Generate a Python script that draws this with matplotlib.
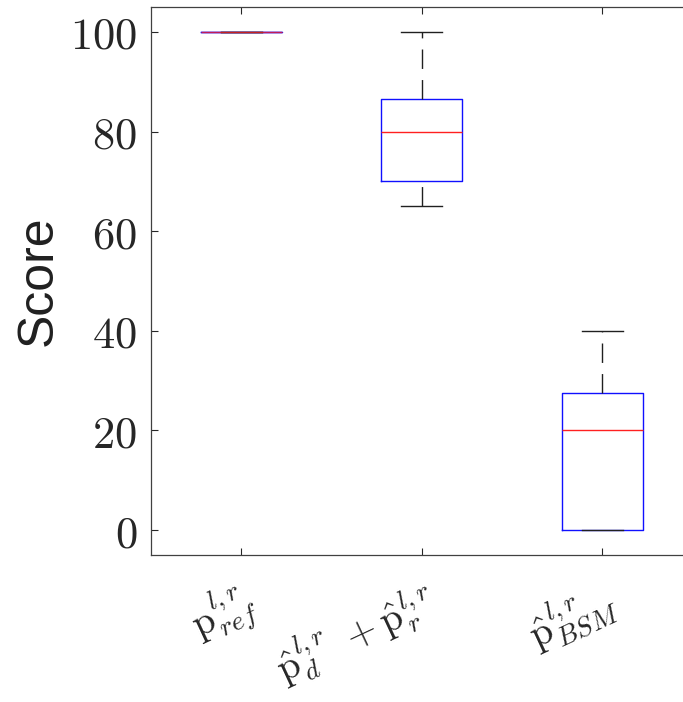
import matplotlib
matplotlib.use("Agg")
import matplotlib.pyplot as plt

plt.rcParams['mathtext.fontset'] = 'cm'

labels = [r'$\mathrm{p}^{l,r}_{ref}$',
          r'$\hat{\mathrm{p}}^{l,r}_{d}\ +\hat{\mathrm{p}}^{l,r}_{r}$',
          r'$\hat{\mathrm{p}}^{l,r}_{BSM}$']
med = [100, 80, 20]
q1 = [100, 70, 0]
q3 = [100, 86.5, 27.5]
whislo = [100, 65, 0]
whishi = [100, 100, 40]

stats = []
for i in range(len(labels)):
    stats.append(dict(med=med[i], q1=q1[i], q3=q3[i],
                      whislo=whislo[i], whishi=whishi[i], fliers=[]))

fig = plt.figure(figsize=(6.83, 7.02), dpi=100)
ax = fig.add_axes([151/683, 147/702, 541.5/683, 548/702])

bp = ax.bxp(stats, positions=[1, 2, 3], widths=0.45, capwidths=0.225,
            showfliers=False,
            boxprops=dict(color='#1010ff', lw=1),
            medianprops=dict(color='#ff2020', lw=1),
            whiskerprops=dict(color='#202020', lw=1, linestyle=(0, (14, 8))),
            capprops=dict(color='#202020', lw=1))
# MATLAB draws the whisker from the lower value upward
for k, w in enumerate(bp['whiskers']):
    if k % 2 == 0:
        w.set_ydata(w.get_ydata()[::-1])
# degenerate first box: median and box edge overlap, looks purple
bp['medians'][0].set_alpha(0.75)

ax.set_xlim(0.5, 3.5)
ax.set_ylim(-5, 105)
ax.set_yticks([0, 20, 40, 60, 80, 100])
ax.set_yticklabels(['$%d$' % v for v in [0, 20, 40, 60, 80, 100]], fontsize=32)
ax.set_xticks([1, 2, 3])
ax.set_xticklabels(labels, fontsize=28, rotation=25, ha='right',
                   rotation_mode='anchor')
ax.tick_params(direction='in', length=5, width=0.8, colors='#262626',
               top=True, right=True, pad=10)
ax.tick_params(axis='x', pad=14)
for s in ax.spines.values():
    s.set_color('#404040')
    s.set_linewidth(0.9)

ax.set_ylabel('Score', fontsize=36, family='Liberation Sans', labelpad=6,
              color='#202020')

fig.savefig('out.png', dpi=100)
